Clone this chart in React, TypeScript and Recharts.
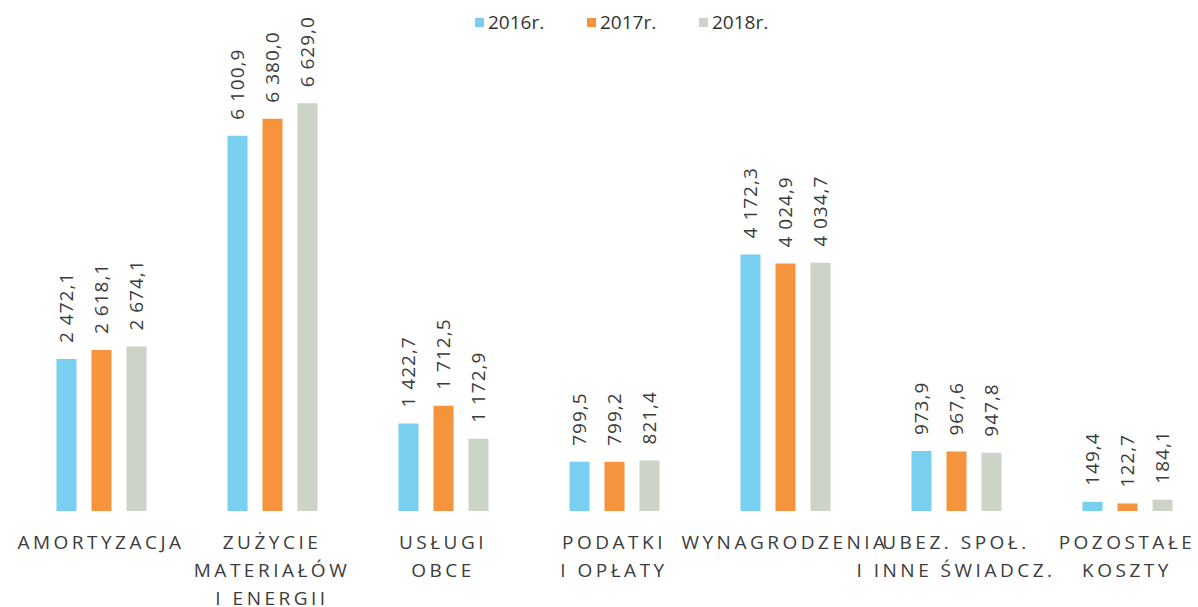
import React from 'react';
import { BarChart, Bar, XAxis, YAxis, LabelList, Legend } from 'recharts';

const categories = [
  'AMORTYZACJA',
  'ZUŻYCIE\nMATERIAŁÓW\nI ENERGII',
  'USŁUGI\nOBCE',
  'PODATKI\nI OPŁATY',
  'WYNAGRODZENIA',
  'UBEZ. SPOŁ.\nI INNE ŚWIADCZ.',
  'POZOSTAŁE\nKOSZTY',
];
const seriesNames = ['2016r.', '2017r.', '2018r.'];
const seriesKeys = ['y2016', 'y2017', 'y2018'];
const values2016 = [2472.1, 6100.9, 1422.7, 799.5, 4172.3, 973.9, 149.4];
const values2017 = [2618.1, 6380.0, 1712.5, 799.2, 4024.9, 967.6, 122.7];
const values2018 = [2674.1, 6629.0, 1172.9, 821.4, 4034.7, 947.8, 184.1];
const seriesColors = ['#78CFEF', '#F6933D', '#CBD4C6'];

const data = categories.map((name, i) => ({
  name,
  y2016: values2016[i],
  y2017: values2017[i],
  y2018: values2018[i],
}));

const FONT = '"Open Sans", "Noto Sans", sans-serif';
const TEXT = '#3b3b3b';

const fmt = (v: number) => {
  const [i, d] = Number(v).toFixed(1).split('.');
  return i.replace(/\B(?=(\d{3})+(?!\d))/g, ' ') + ',' + d;
};

const ValueLabel = (props: any) => {
  const { x, y, width, value } = props;
  const cx = Number(x) + Number(width) / 2;
  const ty = Number(y) - 16;
  return (
    <text
      x={cx}
      y={ty}
      transform={`rotate(-90 ${cx} ${ty})`}
      textAnchor="start"
      dominantBaseline="central"
      fontSize={19}
      letterSpacing={1}
      fill={TEXT}
      fontFamily={FONT}
    >
      {fmt(value)}
    </text>
  );
};

const CategoryTick = (props: any) => {
  const { x, y, payload } = props;
  const lines = String(payload.value).split('\n');
  return (
    <text x={x} y={y} textAnchor="middle" fill={TEXT} fontSize={19} letterSpacing={3.5} fontFamily={FONT}>
      {lines.map((l, i) => (
        <tspan key={i} x={x} dy={i === 0 ? 38 : 28}>
          {l}
        </tspan>
      ))}
    </text>
  );
};

const LegendContent = () => (
  <div style={{ display: 'flex', alignItems: 'center', fontFamily: FONT, fontSize: 19, color: '#333', lineHeight: '26px' }}>
    {seriesNames.map((n, i) => (
      <div key={n} style={{ display: 'flex', alignItems: 'center', width: 112 }}>
        <span style={{ display: 'inline-block', width: 9, height: 9, background: seriesColors[i], marginRight: 4 }} />
        <span>{n}</span>
      </div>
    ))}
  </div>
);

export default function App() {
  return (
    <div style={{ width: 1198, height: 607, overflow: 'hidden', position: 'relative', background: '#fff' }}>
      <style>{`body{margin:0;}`}</style>
      <BarChart
        width={1240}
        height={607}
        data={data}
        margin={{ top: 80.5, right: 27.5, bottom: 0, left: 15.5 }}
        barSize={20}
        barGap={15}
      >
        <XAxis
          dataKey="name"
          tick={<CategoryTick />}
          tickLine={false}
          axisLine={false}
          tickSize={0}
          tickMargin={0}
          height={96}
          interval={0}
        />
        <YAxis hide domain={[0, 7000]} />
        <Legend
          verticalAlign="middle"
          align="center"
          layout="horizontal"
          wrapperStyle={{ top: 9, left: 475, width: 340, height: 26 }}
          content={<LegendContent />}
        />
        {seriesKeys.map((k, i) => (
          <Bar key={k} dataKey={k} name={seriesNames[i]} fill={seriesColors[i]} isAnimationActive={false}>
            <LabelList dataKey={k} content={<ValueLabel />} />
          </Bar>
        ))}
      </BarChart>
    </div>
  );
}
